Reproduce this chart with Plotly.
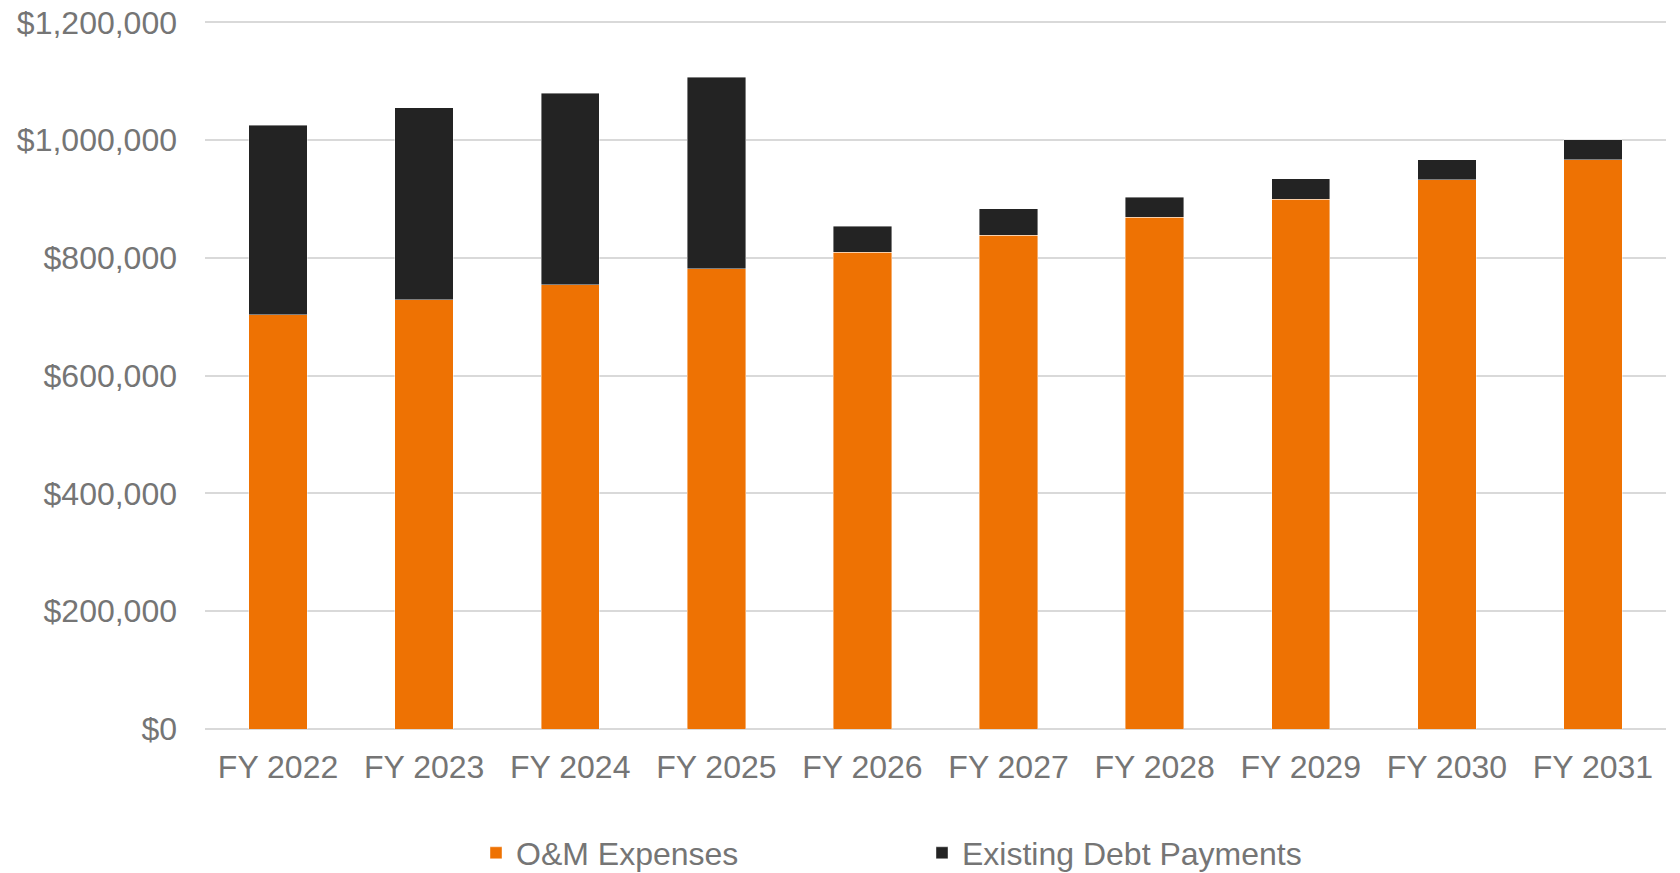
import plotly.graph_objects as go

years = ["FY 2022", "FY 2023", "FY 2024", "FY 2025", "FY 2026",
         "FY 2027", "FY 2028", "FY 2029", "FY 2030", "FY 2031"]
om_expenses = [703500, 728900, 754300, 782000, 809700,
               838600, 869100, 899600, 932400, 966900]
debt_payments = [321600, 325700, 325700, 324500, 44100,
                 44600, 33900, 34500, 34500, 33900]
y_ticks = [0, 200000, 400000, 600000, 800000, 1000000, 1200000]
y_tick_text = ["${:,}".format(v) for v in y_ticks]

ORANGE = "#EE7203"
BLACK = "#232323"
TEXT = "#757575"
GRID = "#D9D9D9"
FS = 32

fig = go.Figure()
fig.add_trace(go.Bar(x=years, y=om_expenses, name="O&M Expenses",
                     marker=dict(color=ORANGE, line=dict(color="rgba(255,255,255,0.6)", width=0.7))))
fig.add_trace(go.Bar(x=years, y=debt_payments, name="Existing Debt Payments",
                     marker=dict(color=BLACK, line=dict(color="rgba(255,255,255,0.6)", width=0.7))))

W, H = 1680, 873
y_max = 1204000
ml, mr, mt, mb = 205, 14, 20, 144
pw = W - ml - mr

fig.update_layout(
    width=W, height=H,
    barmode="stack",
    bargap=0.6,
    paper_bgcolor="white",
    plot_bgcolor="white",
    margin=dict(l=ml, r=mr, t=mt, b=mb, pad=0, autoexpand=False),
    font=dict(family="Liberation Sans, Arial, sans-serif", size=FS, color=TEXT),
    showlegend=True,
    legend=dict(
        orientation="h",
        x=(476 - ml) / pw, xanchor="left",
        yref="container",
        y=(H - 853) / H, yanchor="middle",
        entrywidth=401,
        font=dict(size=FS, color=TEXT),
        bgcolor="rgba(0,0,0,0)",
        traceorder="normal",
    ),
    xaxis=dict(
        showgrid=False, showline=False, zeroline=False,
        ticks="", ticklabelstandoff=16,
        tickfont=dict(size=FS, color=TEXT),
    ),
    yaxis=dict(
        range=[0, y_max],
        tickvals=y_ticks, ticktext=y_tick_text,
        showgrid=True, gridcolor=GRID, gridwidth=2,
        zeroline=True, zerolinecolor=GRID, zerolinewidth=2,
        showline=False, ticks="", ticklabelstandoff=27,
        tickfont=dict(size=FS, color=TEXT),
    ),
)

fig.write_html("out.html")
